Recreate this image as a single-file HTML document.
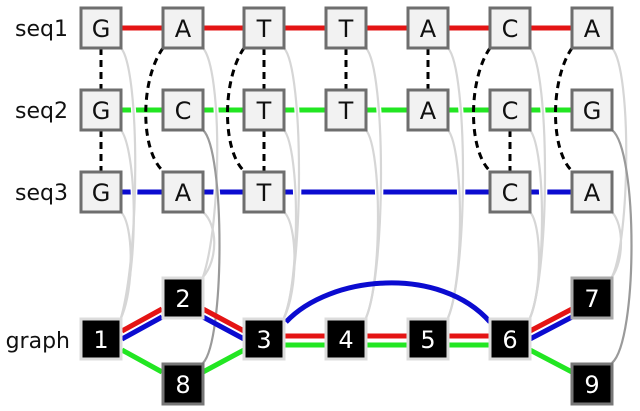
<!DOCTYPE html>
<html><head><style>body{margin:0;background:#fff}svg{display:block}</style></head><body>
<svg width="640" height="411" xmlns="http://www.w3.org/2000/svg" font-family="DejaVu Sans, Liberation Sans, sans-serif">
<!-- sequence lines -->
<path d="M121,28 H572" stroke="#e41414" stroke-width="5"/>
<path d="M121,110 H572" stroke="#22e622" stroke-width="5"/>
<path d="M121,192 H572" stroke="#0b0bd0" stroke-width="5"/>
<!-- gray mapping curves with halo -->
<g id="curves" fill="none">
<g stroke="#fff" stroke-width="5">
<path d="M121,48 C140,70 140,250 121,318"/>
<path d="M121,130 C136,150 140,260 121,318"/>
<path d="M203,48 C222,70 222,220 203,277"/>
<path d="M284,48 C304,70 304,270 284,318"/>
<path d="M284,130 C300,150 300,280 284,318"/>
<path d="M366,48 C386,70 386,270 366,318"/>
<path d="M366,130 C382,150 382,280 366,318"/>
<path d="M448,48 C468,70 468,270 448,318"/>
<path d="M448,130 C464,150 464,280 448,318"/>
<path d="M530,48 C550,70 550,270 530,318"/>
<path d="M530,130 C546,150 546,280 530,318"/>
<path d="M612,48 C632,70 630,240 612,277"/>
<path d="M203,130 C225,150 225,340 203,363"/>
</g>
<g stroke="#d6d6d6" stroke-width="2.2">
<path d="M121,48 C140,70 140,250 121,318"/>
<path d="M121,130 C136,150 140,260 121,318"/>
<path d="M121,212 C134,225 134,290 121,318"/>
<path d="M203,48 C222,70 222,220 203,277"/>
<path d="M203,212 C218,225 218,260 203,277"/>
<path d="M284,48 C304,70 304,270 284,318"/>
<path d="M284,130 C300,150 300,280 284,318"/>
<path d="M284,212 C298,225 298,290 284,318"/>
<path d="M366,48 C386,70 386,270 366,318"/>
<path d="M366,130 C382,150 382,280 366,318"/>
<path d="M448,48 C468,70 468,270 448,318"/>
<path d="M448,130 C464,150 464,280 448,318"/>
<path d="M530,48 C550,70 550,270 530,318"/>
<path d="M530,130 C546,150 546,280 530,318"/>
<path d="M530,212 C542,225 542,290 530,318"/>
<path d="M612,48 C632,70 630,240 612,277"/>
<path d="M612,212 C624,225 624,260 612,277"/>
</g>
<g stroke="#9a9a9a" stroke-width="2.2">
<path d="M203,130 C225,150 225,340 203,363"/>
<path d="M612,130 C638,150 638,340 612,363"/>
</g>
</g>
<!-- dashed alignment -->
<g fill="none" stroke="#000" stroke-width="3" stroke-dasharray="7,5">
<path d="M101,48 V89"/><path d="M101,130 V171"/>
<path d="M163,48 C140,80 140,150 163,171"/>
<path d="M244,48 C222,80 222,150 244,171"/>
<path d="M264,48 V89"/><path d="M264,130 V171"/>
<path d="M346,48 V89"/><path d="M428,48 V89"/>
<path d="M490,48 C468,80 468,150 490,171"/>
<path d="M510,130 V171"/>
<path d="M572,48 C550,80 550,150 572,171"/>
</g>
<!-- seq boxes -->
<g fill="#f2f2f2" stroke="#6e6e6e" stroke-width="3">
<rect x="81" y="8" width="40" height="40"/><rect x="163" y="8" width="40" height="40"/><rect x="244" y="8" width="40" height="40"/><rect x="326" y="8" width="40" height="40"/><rect x="408" y="8" width="40" height="40"/><rect x="490" y="8" width="40" height="40"/><rect x="572" y="8" width="40" height="40"/>
<rect x="81" y="90" width="40" height="40"/><rect x="163" y="90" width="40" height="40"/><rect x="244" y="90" width="40" height="40"/><rect x="326" y="90" width="40" height="40"/><rect x="408" y="90" width="40" height="40"/><rect x="490" y="90" width="40" height="40"/><rect x="572" y="90" width="40" height="40"/>
<rect x="81" y="172" width="40" height="40"/><rect x="163" y="172" width="40" height="40"/><rect x="244" y="172" width="40" height="40"/><rect x="490" y="172" width="40" height="40"/><rect x="572" y="172" width="40" height="40"/>
</g>
<g font-size="24" text-anchor="middle" fill="#111">
<text x="101" y="37">G</text><text x="183" y="37">A</text><text x="264" y="37">T</text><text x="346" y="37">T</text><text x="428" y="37">A</text><text x="510" y="37">C</text><text x="592" y="37">A</text>
<text x="101" y="119">G</text><text x="183" y="119">C</text><text x="264" y="119">T</text><text x="346" y="119">T</text><text x="428" y="119">A</text><text x="510" y="119">C</text><text x="592" y="119">G</text>
<text x="101" y="201">G</text><text x="183" y="201">A</text><text x="264" y="201">T</text><text x="510" y="201">C</text><text x="592" y="201">A</text>
</g>
<g font-size="22" text-anchor="end" fill="#111">
<text x="68" y="36">seq1</text><text x="68" y="118">seq2</text><text x="68" y="200">seq3</text><text x="70" y="348">graph</text>
</g>
<!-- graph edges -->
<g fill="none" stroke-width="5">
<path d="M122,331 L162,309 M203,309 L244,331 M530,331 L572,309" stroke="#e41414"/>
<path d="M122,339 L162,317 M203,317 L244,339 M530,339 L572,317" stroke="#0b0bd0"/>
<path d="M122,350 L162,372 M203,372 L244,350 M530,350 L572,372" stroke="#22e622"/>
<path d="M284,336 H490" stroke="#e41414"/>
<path d="M284,345 H490" stroke="#22e622"/>
<path d="M286,322 C330,275 440,265 490,322" stroke="#0b0bd0"/>
</g>
<!-- graph nodes -->
<g fill="#000" stroke-width="3">
<rect x="81" y="319" width="40" height="40" stroke="#dcdcdc"/>
<rect x="163" y="278" width="40" height="40" stroke="#dcdcdc"/>
<rect x="163" y="364" width="40" height="40" stroke="#777"/>
<rect x="244" y="319" width="40" height="40" stroke="#dcdcdc"/>
<rect x="326" y="319" width="40" height="40" stroke="#dcdcdc"/>
<rect x="408" y="319" width="40" height="40" stroke="#dcdcdc"/>
<rect x="490" y="319" width="40" height="40" stroke="#dcdcdc"/>
<rect x="572" y="278" width="40" height="40" stroke="#aaa"/>
<rect x="572" y="364" width="40" height="40" stroke="#777"/>
</g>
<g font-size="24" text-anchor="middle" fill="#fff">
<text x="101" y="348">1</text><text x="183" y="307">2</text><text x="183" y="393">8</text><text x="264" y="348">3</text><text x="346" y="348">4</text><text x="428" y="348">5</text><text x="510" y="348">6</text><text x="592" y="307">7</text><text x="592" y="393">9</text>
</g>
</svg>
</body></html>
